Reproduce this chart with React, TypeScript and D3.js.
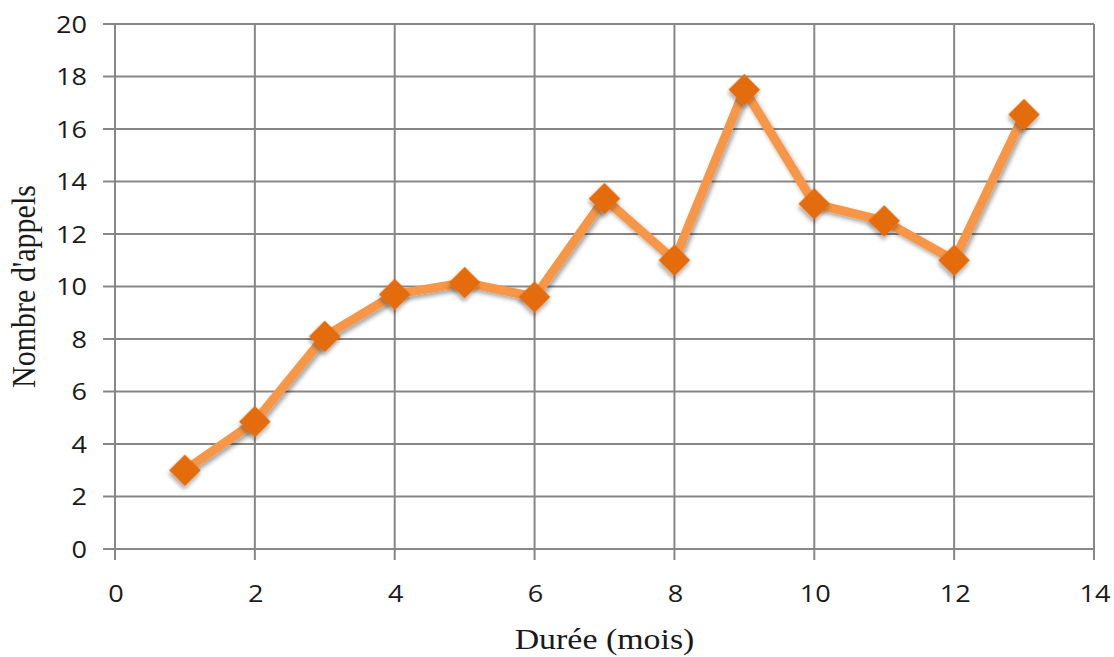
import React from "react";
import * as d3 from "d3";

const months = [1, 2, 3, 4, 5, 6, 7, 8, 9, 10, 11, 12, 13];
const calls = [3.0, 4.85, 8.1, 9.7, 10.15, 9.6, 13.35, 11.0, 17.5, 13.15, 12.5, 11.0, 16.55];
const xTicks = [0, 2, 4, 6, 8, 10, 12, 14];
const yTicks = [0, 2, 4, 6, 8, 10, 12, 14, 16, 18, 20];
const xTitle = "Durée (mois)";
const yTitle = "Nombre d'appels";

const W = 1114;
const H = 657;
const left = 115;
const right = 1094;
const top = 24;
const bottom = 549;
const SX = 1.13;

export default function App() {
  const x = d3.scaleLinear().domain([0, 14]).range([left, right]);
  const y = d3.scaleLinear().domain([0, 20]).range([bottom, top]);
  const pts = months.map((m, i) => [m, calls[i]] as [number, number]);
  const line = d3
    .line<[number, number]>()
    .x((d) => x(d[0]))
    .y((d) => y(d[1]));
  const diamond = d3.symbol().type(d3.symbolSquare).size(500)() as string;
  const grid = "#878787";
  const labelFont = "'Open Sans', 'Liberation Sans', sans-serif";
  const titleFont = "'Liberation Serif', 'DejaVu Serif', serif";

  return (
    <svg
      width={W}
      height={H}
      style={{ position: "absolute", left: 0, top: 0, background: "#fff" }}
    >
      <defs>
        <filter id="sh" x="-50%" y="-50%" width="200%" height="200%">
          <feDropShadow dx="2" dy="3" stdDeviation="2" floodColor="#000" floodOpacity="0.35" />
        </filter>
      </defs>
      {yTicks.map((t) => (
        <line key={"gy" + t} x1={left - 12} x2={right} y1={y(t)} y2={y(t)} stroke={grid} strokeWidth={2} />
      ))}
      {xTicks.map((t) => (
        <line key={"gx" + t} x1={x(t)} x2={x(t)} y1={top} y2={bottom + 11} stroke={grid} strokeWidth={2} />
      ))}
      {yTicks.map((t) => (
        <g key={"ly" + t} transform={`translate(87,${y(t)}) scale(${SX},1)`}>
          <text
            textAnchor="end"
            dy="0.36em"
            fontFamily={labelFont}
            fontSize={24}
            fontWeight={500}
            fill="#1a1a1a"
          >
            {t}
          </text>
        </g>
      ))}
      {xTicks.map((t) => (
        <g key={"lx" + t} transform={`translate(${x(t) + 1},593) scale(${SX},1)`}>
          <text
            textAnchor="middle"
            dy="0.36em"
            fontFamily={labelFont}
            fontSize={24}
            fontWeight={500}
            fill="#1a1a1a"
          >
            {t}
          </text>
        </g>
      ))}
      <g transform={`translate(${(left + right) / 2},649) scale(${SX},1)`}>
        <text textAnchor="middle" fontFamily={titleFont} fontSize={30} fill="#1a1a1a">
          {xTitle}
        </text>
      </g>
      <g transform={`translate(35,${(top + bottom) / 2}) scale(${SX},1) rotate(-90)`}>
        <text textAnchor="middle" fontFamily={titleFont} fontSize={30} fill="#1a1a1a">
          {yTitle}
        </text>
      </g>
      <path
        d={line(pts) as string}
        fill="none"
        stroke="#F79646"
        strokeWidth={9}
        strokeLinejoin="round"
        filter="url(#sh)"
      />
      {pts.map((p, i) => (
        <path
          key={"m" + i}
          d={diamond}
          transform={`translate(${x(p[0])},${y(p[1])}) rotate(45)`}
          fill="#E46C0A"
          filter="url(#sh)"
        />
      ))}
    </svg>
  );
}
